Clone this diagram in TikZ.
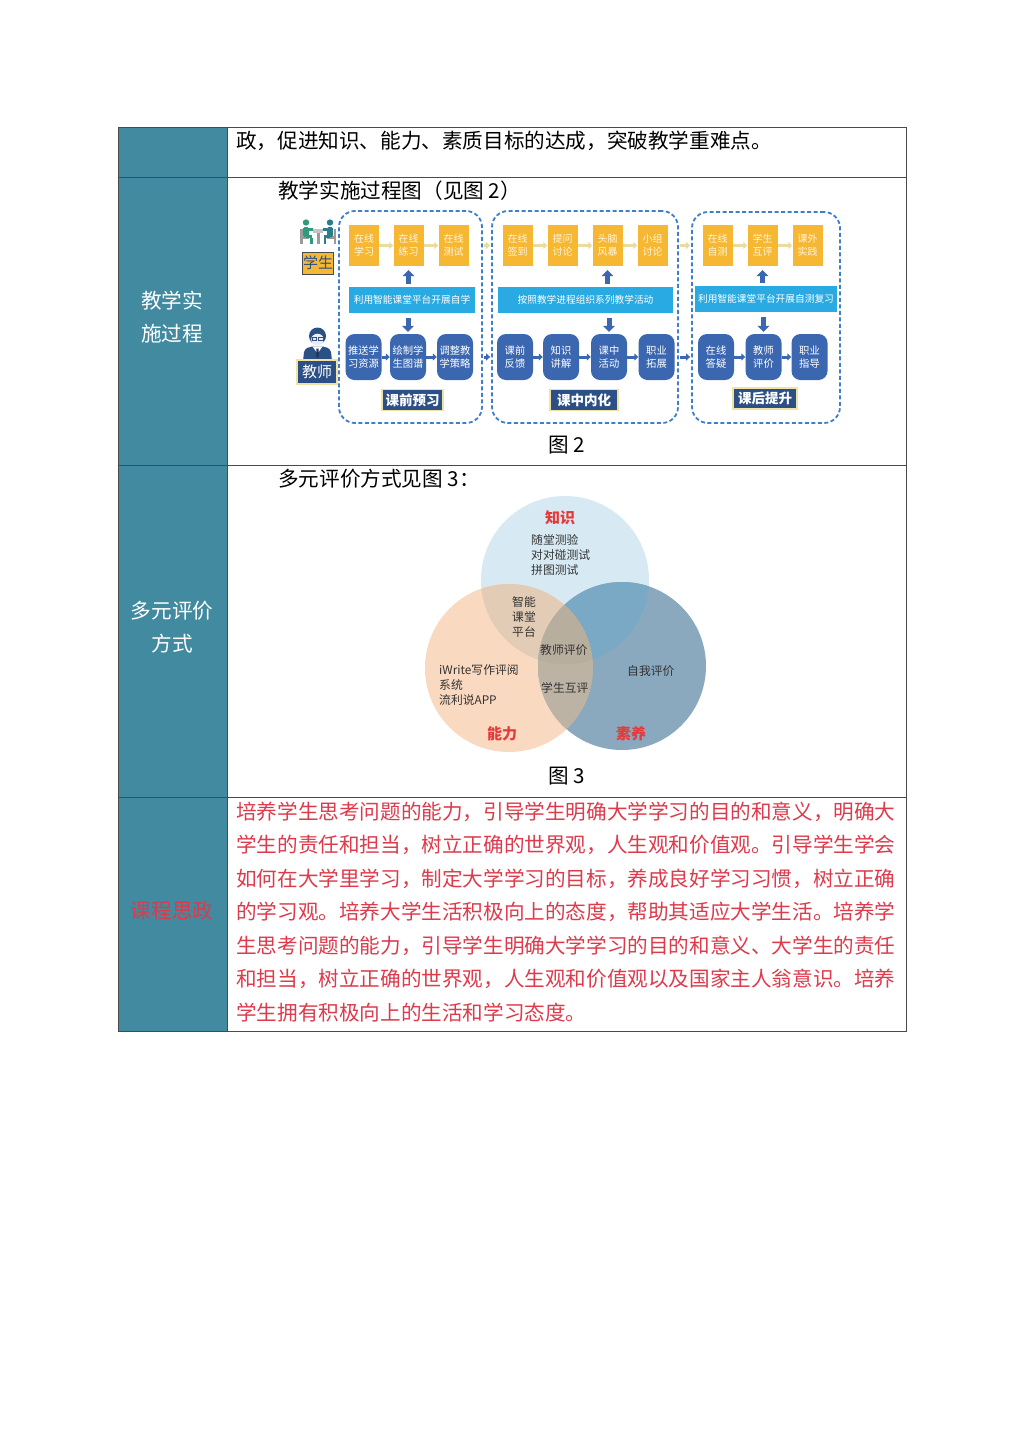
\documentclass[tikz,border=0pt]{standalone}
\usepackage{fontspec}
\setmainfont{Noto Sans CJK SC}
\usetikzlibrary{arrows.meta}
\definecolor{myteal}{HTML}{428A9F}
\definecolor{redtxt}{HTML}{DD3A4C}
\definecolor{vred}{HTML}{E53A3A}
\definecolor{lineg}{HTML}{4A4A4A}
\definecolor{ylw}{HTML}{F6B732}
\definecolor{ytxt}{HTML}{FFF6E2}
\definecolor{cyanb}{HTML}{2AAAE2}
\definecolor{blueb}{HTML}{3B67B1}
\definecolor{navy}{HTML}{2C4F86}
\definecolor{dashc}{HTML}{3F7EC8}
\definecolor{beige}{HTML}{EADBA0}
\definecolor{stageb}{HTML}{EFE2A2}
\definecolor{sgreen}{HTML}{2E9A7E}
\definecolor{sblue}{HTML}{2B7C8C}
\definecolor{sgray}{HTML}{9B9B9B}
\definecolor{tgray}{HTML}{C4C4C4}
\definecolor{facec}{HTML}{E9EEF5}
\definecolor{vtop}{HTML}{D7EAF3}
\definecolor{vleft}{HTML}{F9D9BF}
\definecolor{vright}{HTML}{8AA9BF}
\definecolor{vTL}{HTML}{E3CCB5}
\definecolor{vTR}{HTML}{79A9C4}
\definecolor{vLR}{HTML}{BDB3A4}
\definecolor{vTLR}{HTML}{B8AE9E}
\definecolor{vtxt}{HTML}{333333}
\begin{document}
\begin{tikzpicture}[x=1pt,y=-1pt,
  every node/.style={inner sep=0pt},
  body/.style={font=\fontsize{20.6}{24}\selectfont, anchor=west},
  redline/.style={body, text=redtxt},
  capt/.style={font=\fontsize{20.6}{24}\selectfont},
  lab/.style={font=\fontsize{20.6}{33}\selectfont, text=white, align=center},
  ybox/.style={fill=ylw, minimum width=30pt, minimum height=41pt, text=ytxt,
    font=\fontsize{10}{13}\selectfont, align=center},
  bbox/.style={fill=blueb, rounded corners=9pt, minimum width=36pt, minimum height=46pt,
    text=white, font=\fontsize{10.3}{13.5}\selectfont, align=center},
  band/.style={fill=cyanb, minimum height=26pt, text=white, font=\fontsize{9.7}{12}\selectfont},
  stage/.style={fill=navy, draw=stageb, line width=1.3pt, minimum height=21pt, text=white,
    font=\bfseries\fontsize{13.5}{15}\selectfont},
  frame/.style={draw=dashc, dash pattern=on 4pt off 2.5pt, line width=1.8pt, rounded corners=16pt},
  yarrow/.style={-{Triangle[width=7pt,length=4pt]}, line width=3pt, beige},
  barrow/.style={-{Triangle[width=7pt,length=4pt]}, line width=3pt, blueb},
  bigarrow/.style={-{Triangle[width=12pt,length=6pt]}, line width=5pt, blueb},
  vt/.style={font=\fontsize{11.8}{15}\selectfont, text=vtxt, align=left, anchor=west},
  vh/.style={font=\bfseries\fontsize{15}{17}\selectfont, text=vred}
]
\useasboundingbox (0,0) rectangle (1024,1448);
\fill[white] (0,0) rectangle (1024,1448);

% ---------------- table ----------------
\fill[myteal] (118,127) rectangle (227,1031);
\draw[lineg, line width=1pt] (118,127) rectangle (906,1031);
\draw[lineg, line width=1pt] (227,127) -- (227,1031);
\draw[lineg, line width=1pt] (118,177) -- (906,177);
\draw[lineg, line width=1pt] (118,465) -- (906,465);
\draw[lineg, line width=1pt] (118,797) -- (906,797);

\node[body] (r1) at (236,141) {政，促进知识、能力、素质目标的达成，突破教学重难点。};
\node[body] (r2h) at (278,191) {教学实施过程图（见图 2）};
\node[capt] (fig2) at (567,445) {图 2};
\node[body] (r3h) at (278,479) {多元评价方式见图 3：};
\node[capt] (fig3) at (567,776) {图 3};

\node[lab] (l2) at (172,317.5) {教学实\\施过程};
\node[lab] (l3) at (172,627.5) {多元评价\\方式};
\node[lab, text=redtxt] (l4) at (172,911) {课程思政};

\node[redline] (p1) at (236,811.5) {培养学生思考问题的能力，引导学生明确大学学习的目的和意义，明确大};
\node[redline] (p2) at (236,845) {学生的责任和担当，树立正确的世界观，人生观和价值观。引导学生学会};
\node[redline] (p3) at (236,878.5) {如何在大学里学习，制定大学学习的目标，养成良好学习习惯，树立正确};
\node[redline] (p4) at (236,912) {的学习观。培养大学生活积极向上的态度，帮助其适应大学生活。培养学};
\node[redline] (p5) at (236,945.5) {生思考问题的能力，引导学生明确大学学习的目的和意义、大学生的责任};
\node[redline] (p6) at (236,979) {和担当，树立正确的世界观，人生观和价值观以及国家主人翁意识。培养};
\node[redline] (p7) at (236,1012.5) {学生拥有积极向上的生活和学习态度。};

% ---------------- figure 2 ----------------
\node[frame, minimum width=143pt, minimum height=212pt] (f1) at (410.5,317) {};
\node[frame, minimum width=186pt, minimum height=212pt] (f2) at (585,317) {};
\node[frame, minimum width=148pt, minimum height=211pt] (f3) at (766,317.5) {};

% stage 1
\node[ybox] (y11) at (364,245.5) {在线\\学习};
\node[ybox] (y12) at (408.5,245.5) {在线\\练习};
\node[ybox] (y13) at (453.5,245.5) {在线\\测试};
\node[band, minimum width=126pt] (band1) at (412,300) {利用智能课堂平台开展自学};
\node[bbox] (b11) at (363.5,357) {推送学\\习资源};
\node[bbox] (b12) at (408,357) {绘制学\\生图谱};
\node[bbox] (b13) at (455,357) {调整教\\学策略};
\node[stage, minimum width=61pt] (s1) at (412.5,400) {课前预习};

% stage 2
\node[ybox] (y21) at (517.5,245.5) {在线\\签到};
\node[ybox] (y22) at (562.5,245.5) {提问\\讨论};
\node[ybox] (y23) at (607.5,245.5) {头脑\\风暴};
\node[ybox] (y24) at (652.5,245.5) {小组\\讨论};
\node[band, minimum width=175pt] (band2) at (585.5,300) {按照教学进程组织系列教学活动};
\node[bbox] (b21) at (515,357) {课前\\反馈};
\node[bbox] (b22) at (561,357) {知识\\讲解};
\node[bbox] (b23) at (609,357) {课中\\活动};
\node[bbox] (b24) at (656.5,357) {职业\\拓展};
\node[stage, minimum width=68pt] (s2) at (584,400) {课中内化};

% stage 3
\node[ybox] (y31) at (717.5,245.5) {在线\\自测};
\node[ybox] (y32) at (762.5,245.5) {学生\\互评};
\node[ybox] (y33) at (807.5,245.5) {课外\\实践};
\node[band, minimum width=142pt] (band3) at (766,299) {利用智能课堂平台开展自测复习};
\node[bbox] (b31) at (716,357) {在线\\答疑};
\node[bbox] (b32) at (763.5,357) {教师\\评价};
\node[bbox] (b33) at (809.5,357) {职业\\指导};
\node[stage, minimum width=64pt] (s3) at (765,398.5) {课后提升};

% arrows inside stages
\draw[yarrow] (y11) -- (y12);
\draw[yarrow] (y12) -- (y13);
\draw[yarrow] (y21) -- (y22);
\draw[yarrow] (y22) -- (y23);
\draw[yarrow] (y23) -- (y24);
\draw[yarrow] (y31) -- (y32);
\draw[yarrow] (y32) -- (y33);
\draw[barrow] (b11) -- (b12);
\draw[barrow] (b12) -- (b13);
\draw[barrow] (b21) -- (b22);
\draw[barrow] (b22) -- (b23);
\draw[barrow] (b23) -- (b24);
\draw[barrow] (b31) -- (b32);
\draw[barrow] (b32) -- (b33);
\draw[bigarrow, shorten <=3pt, shorten >=4pt] (band1.north -| y12) -- (y12.south);
\draw[bigarrow, shorten <=5pt, shorten >=2pt] (band1.south -| b12) -- (b12.north);
\draw[bigarrow, shorten <=3pt, shorten >=4pt] (band2.north -| y23) -- (y23.south);
\draw[bigarrow, shorten <=5pt, shorten >=2pt] (band2.south -| b23) -- (b23.north);
\draw[bigarrow, shorten <=3pt, shorten >=4pt] (band3.north -| y32) -- (y32.south);
\draw[bigarrow, shorten <=5pt, shorten >=2pt] (band3.south -| b32) -- (b32.north);
% arrows between stages
\draw[yarrow, shorten <=1pt, shorten >=1pt] (f1.east |- y13) -- (f2.west |- y13);
\draw[barrow, shorten <=1pt, shorten >=1pt] (f1.east |- b13) -- (f2.west |- b13);
\draw[yarrow, shorten <=1pt, shorten >=1pt] (f2.east |- y24) -- (f3.west |- y24);
\draw[barrow, shorten <=1pt, shorten >=1pt] (f2.east |- b24) -- (f3.west |- b24);

% student icon
\fill[sgray] (300,229) rectangle (302.5,244);
\fill[sgray] (300,236) rectangle (309,238.5);
\fill[sgreen] (306,222.5) circle (3.2);
\fill[sgreen, rounded corners=1.5pt] (303,227) rectangle (309,237);
\fill[sgreen] (309,228) rectangle (313,231);
\fill[sgreen] (306,235) rectangle (312,238);
\fill[sgreen] (310,238) rectangle (312.5,244);
\fill[tgray] (313,229) rectangle (323,233);
\fill[sgray] (316.5,233) rectangle (319.5,244);
\fill[sgray] (333.5,229) rectangle (336,244);
\fill[sgray] (327,236) rectangle (336,238.5);
\fill[sblue] (330,222.5) circle (3.2);
\fill[sblue, rounded corners=1.5pt] (327,227) rectangle (333,237);
\fill[sblue] (323,228) rectangle (327,231);
\fill[sblue] (324,235) rectangle (330,238);
\fill[sblue] (323.5,238) rectangle (326,244);
\node[fill=ylw, draw=lineg, line width=0.8pt, minimum width=31pt, minimum height=22pt,
  text=navy, font=\fontsize{15}{16}\selectfont] (stu) at (318,263) {学生};

% teacher icon
\fill[navy] (303,361) -- (304,352) .. controls (305,348) and (309,347) .. (312,346.5)
  -- (323,346.5) .. controls (326,347) and (330,348) .. (331,352) -- (332,361) -- cycle;
\fill[white] (312.5,346.5) -- (317.5,353.5) -- (322.5,346.5) -- cycle;
\fill[navy!70!black] (316.5,348.5) -- (318.5,348.5) -- (319,356) -- (317.5,358) -- (316,356) -- cycle;
\fill[navy] (317.5,336) circle (8.5);
\fill[facec] (317.5,339.5) ellipse (6.3 and 5.8);
\draw[navy, line width=0.8pt] (312,337.5) rectangle (316.5,340.5) (318.5,337.5) rectangle (323,340.5);
\node[fill=navy, draw=stageb, line width=1.3pt, minimum width=40pt, minimum height=24pt,
  text=white, font=\fontsize{15}{16}\selectfont] (tea) at (317,372) {教师};

% ---------------- figure 3 (Venn) ----------------
\coordinate (vT) at (565,580);
\coordinate (vL) at (509,668);
\coordinate (vR) at (622,666);
\fill[vtop] (vT) circle (84);
\fill[vleft] (vL) circle (84);
\fill[vright] (vR) circle (84);
\begin{scope}
  \clip (vT) circle (84);
  \fill[vTL] (vL) circle (84);
  \fill[vTR] (vR) circle (84);
\end{scope}
\begin{scope}
  \clip (vL) circle (84);
  \fill[vLR] (vR) circle (84);
  \clip (vT) circle (84);
  \fill[vTLR] (vR) circle (84);
\end{scope}

\node[vh] (zs) at (560,518) {知识};
\node[vh] (nl) at (502,734) {能力};
\node[vh] (sy) at (631,734) {素养};
\node[vt] (zsl) at (531,555) {随堂测验\\对对碰测试\\拼图测试};
\node[vt] (zn) at (512,617) {智能\\课堂\\平台};
\node[vt] (jspj) at (540,650) {教师评价};
\node[vt] (iw) at (439,685) {iWrite写作评阅\\系统\\流利说APP};
\node[vt] (zwpj) at (627,671) {自我评价};
\node[vt] (xshp) at (541,688) {学生互评};
\end{tikzpicture}
\end{document}
